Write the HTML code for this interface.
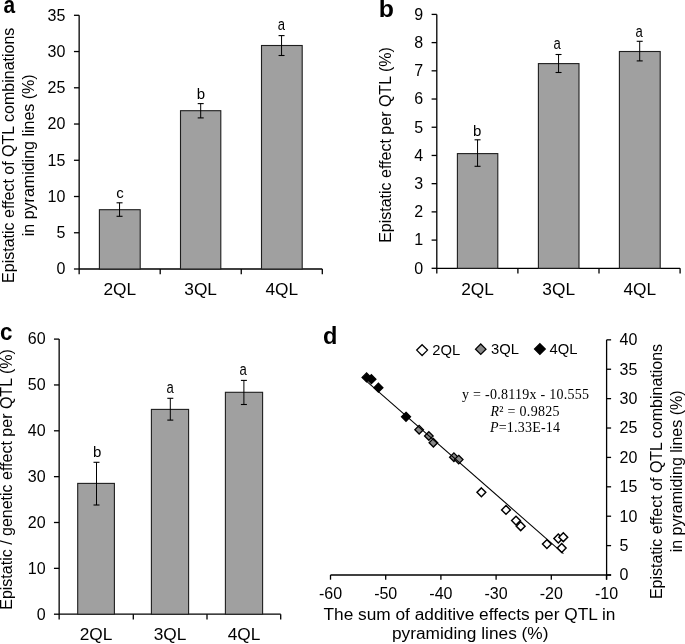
<!DOCTYPE html>
<html><head><meta charset="utf-8"><style>
html,body{margin:0;padding:0;background:#fff;}
body{width:685px;height:644px;overflow:hidden;font-family:"Liberation Sans",sans-serif;}
svg{display:block;will-change:transform;}
</style></head><body>
<svg width="685" height="644" viewBox="0 0 685 644">
<rect width="685" height="644" fill="#fff"/>
<line x1="79.15" y1="15.30" x2="79.15" y2="274.20" stroke="#000" stroke-width="1.3"/>
<line x1="73.95" y1="269.00" x2="79.15" y2="269.00" stroke="#000" stroke-width="1.3"/>
<text x="65.30" y="274.30" font-family="Liberation Sans, sans-serif" font-size="16" text-anchor="end" font-weight="normal" font-style="normal" >0</text>
<line x1="73.95" y1="232.76" x2="79.15" y2="232.76" stroke="#000" stroke-width="1.3"/>
<text x="65.30" y="238.06" font-family="Liberation Sans, sans-serif" font-size="16" text-anchor="end" font-weight="normal" font-style="normal" >5</text>
<line x1="73.95" y1="196.51" x2="79.15" y2="196.51" stroke="#000" stroke-width="1.3"/>
<text x="65.30" y="201.81" font-family="Liberation Sans, sans-serif" font-size="16" text-anchor="end" font-weight="normal" font-style="normal" >10</text>
<line x1="73.95" y1="160.27" x2="79.15" y2="160.27" stroke="#000" stroke-width="1.3"/>
<text x="65.30" y="165.57" font-family="Liberation Sans, sans-serif" font-size="16" text-anchor="end" font-weight="normal" font-style="normal" >15</text>
<line x1="73.95" y1="124.03" x2="79.15" y2="124.03" stroke="#000" stroke-width="1.3"/>
<text x="65.30" y="129.33" font-family="Liberation Sans, sans-serif" font-size="16" text-anchor="end" font-weight="normal" font-style="normal" >20</text>
<line x1="73.95" y1="87.79" x2="79.15" y2="87.79" stroke="#000" stroke-width="1.3"/>
<text x="65.30" y="93.09" font-family="Liberation Sans, sans-serif" font-size="16" text-anchor="end" font-weight="normal" font-style="normal" >25</text>
<line x1="73.95" y1="51.54" x2="79.15" y2="51.54" stroke="#000" stroke-width="1.3"/>
<text x="65.30" y="56.84" font-family="Liberation Sans, sans-serif" font-size="16" text-anchor="end" font-weight="normal" font-style="normal" >30</text>
<line x1="73.95" y1="15.30" x2="79.15" y2="15.30" stroke="#000" stroke-width="1.3"/>
<text x="65.30" y="20.60" font-family="Liberation Sans, sans-serif" font-size="16" text-anchor="end" font-weight="normal" font-style="normal" >35</text>
<line x1="79.15" y1="269.00" x2="322.30" y2="269.00" stroke="#000" stroke-width="1.3"/>
<line x1="160.20" y1="269.00" x2="160.20" y2="274.20" stroke="#000" stroke-width="1.3"/>
<line x1="241.25" y1="269.00" x2="241.25" y2="274.20" stroke="#000" stroke-width="1.3"/>
<line x1="322.30" y1="269.00" x2="322.30" y2="274.20" stroke="#000" stroke-width="1.3"/>
<rect x="99.40" y="209.70" width="40.80" height="59.30" fill="#a0a0a0" stroke="#1e1e1e" stroke-width="1.1"/>
<line x1="119.55" y1="202.80" x2="119.55" y2="216.30" stroke="#000" stroke-width="1.0"/>
<line x1="116.55" y1="202.80" x2="122.55" y2="202.80" stroke="#000" stroke-width="1.1"/>
<line x1="116.55" y1="216.30" x2="122.55" y2="216.30" stroke="#000" stroke-width="1.1"/>
<text x="119.95" y="198.20" font-family="Liberation Sans, sans-serif" font-size="15" text-anchor="middle" font-weight="normal" font-style="normal" >c</text>
<text x="119.80" y="294.80" font-family="Liberation Sans, sans-serif" font-size="17.3" text-anchor="middle" font-weight="normal" font-style="normal" >2QL</text>
<rect x="180.50" y="110.70" width="40.30" height="158.30" fill="#a0a0a0" stroke="#1e1e1e" stroke-width="1.1"/>
<line x1="200.70" y1="103.60" x2="200.70" y2="117.90" stroke="#000" stroke-width="1.0"/>
<line x1="197.70" y1="103.60" x2="203.70" y2="103.60" stroke="#000" stroke-width="1.1"/>
<line x1="197.70" y1="117.90" x2="203.70" y2="117.90" stroke="#000" stroke-width="1.1"/>
<text x="200.90" y="99.30" font-family="Liberation Sans, sans-serif" font-size="15" text-anchor="middle" font-weight="normal" font-style="normal" >b</text>
<text x="200.65" y="294.80" font-family="Liberation Sans, sans-serif" font-size="17.3" text-anchor="middle" font-weight="normal" font-style="normal" >3QL</text>
<rect x="261.50" y="45.50" width="40.70" height="223.50" fill="#a0a0a0" stroke="#1e1e1e" stroke-width="1.1"/>
<line x1="281.55" y1="35.60" x2="281.55" y2="55.50" stroke="#000" stroke-width="1.0"/>
<line x1="278.55" y1="35.60" x2="284.55" y2="35.60" stroke="#000" stroke-width="1.1"/>
<line x1="278.55" y1="55.50" x2="284.55" y2="55.50" stroke="#000" stroke-width="1.1"/>
<text transform="translate(281.36,30.20) scale(0.87,1.055)" x="0" y="0" font-family="Liberation Sans, sans-serif" font-size="15" text-anchor="middle">a</text>
<text x="281.85" y="294.80" font-family="Liberation Sans, sans-serif" font-size="17.3" text-anchor="middle" font-weight="normal" font-style="normal" >4QL</text>
<text transform="translate(14.40,155.30) rotate(-90)" x="0" y="0" font-family="Liberation Sans, sans-serif" font-size="16" text-anchor="middle" >Epistatic effect of QTL combinations</text>
<text transform="translate(34.20,155.30) rotate(-90)" x="0" y="0" font-family="Liberation Sans, sans-serif" font-size="16" text-anchor="middle" >in pyramiding lines (%)</text>
<text transform="translate(3.40,12.60) scale(0.95,1.09)" x="0" y="0" font-family="Liberation Sans, sans-serif" font-size="22" font-weight="bold">a</text>
<line x1="436.80" y1="14.40" x2="436.80" y2="273.50" stroke="#000" stroke-width="1.3"/>
<line x1="431.60" y1="268.30" x2="436.80" y2="268.30" stroke="#000" stroke-width="1.3"/>
<text x="423.20" y="273.60" font-family="Liberation Sans, sans-serif" font-size="16" text-anchor="end" font-weight="normal" font-style="normal" >0</text>
<line x1="431.60" y1="240.09" x2="436.80" y2="240.09" stroke="#000" stroke-width="1.3"/>
<text x="423.20" y="245.39" font-family="Liberation Sans, sans-serif" font-size="16" text-anchor="end" font-weight="normal" font-style="normal" >1</text>
<line x1="431.60" y1="211.88" x2="436.80" y2="211.88" stroke="#000" stroke-width="1.3"/>
<text x="423.20" y="217.18" font-family="Liberation Sans, sans-serif" font-size="16" text-anchor="end" font-weight="normal" font-style="normal" >2</text>
<line x1="431.60" y1="183.67" x2="436.80" y2="183.67" stroke="#000" stroke-width="1.3"/>
<text x="423.20" y="188.97" font-family="Liberation Sans, sans-serif" font-size="16" text-anchor="end" font-weight="normal" font-style="normal" >3</text>
<line x1="431.60" y1="155.46" x2="436.80" y2="155.46" stroke="#000" stroke-width="1.3"/>
<text x="423.20" y="160.76" font-family="Liberation Sans, sans-serif" font-size="16" text-anchor="end" font-weight="normal" font-style="normal" >4</text>
<line x1="431.60" y1="127.24" x2="436.80" y2="127.24" stroke="#000" stroke-width="1.3"/>
<text x="423.20" y="132.54" font-family="Liberation Sans, sans-serif" font-size="16" text-anchor="end" font-weight="normal" font-style="normal" >5</text>
<line x1="431.60" y1="99.03" x2="436.80" y2="99.03" stroke="#000" stroke-width="1.3"/>
<text x="423.20" y="104.33" font-family="Liberation Sans, sans-serif" font-size="16" text-anchor="end" font-weight="normal" font-style="normal" >6</text>
<line x1="431.60" y1="70.82" x2="436.80" y2="70.82" stroke="#000" stroke-width="1.3"/>
<text x="423.20" y="76.12" font-family="Liberation Sans, sans-serif" font-size="16" text-anchor="end" font-weight="normal" font-style="normal" >7</text>
<line x1="431.60" y1="42.61" x2="436.80" y2="42.61" stroke="#000" stroke-width="1.3"/>
<text x="423.20" y="47.91" font-family="Liberation Sans, sans-serif" font-size="16" text-anchor="end" font-weight="normal" font-style="normal" >8</text>
<line x1="431.60" y1="14.40" x2="436.80" y2="14.40" stroke="#000" stroke-width="1.3"/>
<text x="423.20" y="19.70" font-family="Liberation Sans, sans-serif" font-size="16" text-anchor="end" font-weight="normal" font-style="normal" >9</text>
<line x1="436.80" y1="268.30" x2="680.10" y2="268.30" stroke="#000" stroke-width="1.3"/>
<line x1="517.90" y1="268.30" x2="517.90" y2="273.50" stroke="#000" stroke-width="1.3"/>
<line x1="599.00" y1="268.30" x2="599.00" y2="273.50" stroke="#000" stroke-width="1.3"/>
<line x1="680.10" y1="268.30" x2="680.10" y2="273.50" stroke="#000" stroke-width="1.3"/>
<rect x="457.40" y="153.60" width="40.40" height="114.70" fill="#a0a0a0" stroke="#1e1e1e" stroke-width="1.1"/>
<line x1="477.55" y1="139.80" x2="477.55" y2="166.30" stroke="#000" stroke-width="1.0"/>
<line x1="474.55" y1="139.80" x2="480.55" y2="139.80" stroke="#000" stroke-width="1.1"/>
<line x1="474.55" y1="166.30" x2="480.55" y2="166.30" stroke="#000" stroke-width="1.1"/>
<text x="477.25" y="135.60" font-family="Liberation Sans, sans-serif" font-size="15" text-anchor="middle" font-weight="normal" font-style="normal" >b</text>
<text x="477.60" y="294.60" font-family="Liberation Sans, sans-serif" font-size="17.3" text-anchor="middle" font-weight="normal" font-style="normal" >2QL</text>
<rect x="538.40" y="63.60" width="40.60" height="204.70" fill="#a0a0a0" stroke="#1e1e1e" stroke-width="1.1"/>
<line x1="558.55" y1="54.50" x2="558.55" y2="72.50" stroke="#000" stroke-width="1.0"/>
<line x1="555.55" y1="54.50" x2="561.55" y2="54.50" stroke="#000" stroke-width="1.1"/>
<line x1="555.55" y1="72.50" x2="561.55" y2="72.50" stroke="#000" stroke-width="1.1"/>
<text transform="translate(557.15,48.80) scale(0.87,1.055)" x="0" y="0" font-family="Liberation Sans, sans-serif" font-size="15" text-anchor="middle">a</text>
<text x="558.70" y="294.60" font-family="Liberation Sans, sans-serif" font-size="17.3" text-anchor="middle" font-weight="normal" font-style="normal" >3QL</text>
<rect x="619.40" y="51.50" width="40.80" height="216.80" fill="#a0a0a0" stroke="#1e1e1e" stroke-width="1.1"/>
<line x1="639.70" y1="41.30" x2="639.70" y2="60.90" stroke="#000" stroke-width="1.0"/>
<line x1="636.70" y1="41.30" x2="642.70" y2="41.30" stroke="#000" stroke-width="1.1"/>
<line x1="636.70" y1="60.90" x2="642.70" y2="60.90" stroke="#000" stroke-width="1.1"/>
<text transform="translate(639.10,36.50) scale(0.87,1.055)" x="0" y="0" font-family="Liberation Sans, sans-serif" font-size="15" text-anchor="middle">a</text>
<text x="639.80" y="294.60" font-family="Liberation Sans, sans-serif" font-size="17.3" text-anchor="middle" font-weight="normal" font-style="normal" >4QL</text>
<text transform="translate(391.00,145.05) rotate(-90)" x="0" y="0" font-family="Liberation Sans, sans-serif" font-size="16" text-anchor="middle" >Epistatic effect per QTL (%)</text>
<text transform="translate(378.80,17.25) scale(1.13,1.06)" x="0" y="0" font-family="Liberation Sans, sans-serif" font-size="22" font-weight="bold">b</text>
<line x1="59.15" y1="339.10" x2="59.15" y2="619.40" stroke="#000" stroke-width="1.3"/>
<line x1="53.95" y1="614.20" x2="59.15" y2="614.20" stroke="#000" stroke-width="1.3"/>
<text x="45.60" y="619.50" font-family="Liberation Sans, sans-serif" font-size="16" text-anchor="end" font-weight="normal" font-style="normal" >0</text>
<line x1="53.95" y1="568.35" x2="59.15" y2="568.35" stroke="#000" stroke-width="1.3"/>
<text x="45.60" y="573.65" font-family="Liberation Sans, sans-serif" font-size="16" text-anchor="end" font-weight="normal" font-style="normal" >10</text>
<line x1="53.95" y1="522.50" x2="59.15" y2="522.50" stroke="#000" stroke-width="1.3"/>
<text x="45.60" y="527.80" font-family="Liberation Sans, sans-serif" font-size="16" text-anchor="end" font-weight="normal" font-style="normal" >20</text>
<line x1="53.95" y1="476.65" x2="59.15" y2="476.65" stroke="#000" stroke-width="1.3"/>
<text x="45.60" y="481.95" font-family="Liberation Sans, sans-serif" font-size="16" text-anchor="end" font-weight="normal" font-style="normal" >30</text>
<line x1="53.95" y1="430.80" x2="59.15" y2="430.80" stroke="#000" stroke-width="1.3"/>
<text x="45.60" y="436.10" font-family="Liberation Sans, sans-serif" font-size="16" text-anchor="end" font-weight="normal" font-style="normal" >40</text>
<line x1="53.95" y1="384.95" x2="59.15" y2="384.95" stroke="#000" stroke-width="1.3"/>
<text x="45.60" y="390.25" font-family="Liberation Sans, sans-serif" font-size="16" text-anchor="end" font-weight="normal" font-style="normal" >50</text>
<line x1="53.95" y1="339.10" x2="59.15" y2="339.10" stroke="#000" stroke-width="1.3"/>
<text x="45.60" y="344.40" font-family="Liberation Sans, sans-serif" font-size="16" text-anchor="end" font-weight="normal" font-style="normal" >60</text>
<line x1="59.15" y1="614.20" x2="280.70" y2="614.20" stroke="#000" stroke-width="1.3"/>
<line x1="133.30" y1="614.20" x2="133.30" y2="619.40" stroke="#000" stroke-width="1.3"/>
<line x1="207.00" y1="614.20" x2="207.00" y2="619.40" stroke="#000" stroke-width="1.3"/>
<line x1="280.70" y1="614.20" x2="280.70" y2="619.40" stroke="#000" stroke-width="1.3"/>
<rect x="77.70" y="483.40" width="36.70" height="130.80" fill="#a0a0a0" stroke="#1e1e1e" stroke-width="1.1"/>
<line x1="96.50" y1="462.30" x2="96.50" y2="505.00" stroke="#000" stroke-width="1.0"/>
<line x1="93.50" y1="462.30" x2="99.50" y2="462.30" stroke="#000" stroke-width="1.1"/>
<line x1="93.50" y1="505.00" x2="99.50" y2="505.00" stroke="#000" stroke-width="1.1"/>
<text x="97.20" y="456.90" font-family="Liberation Sans, sans-serif" font-size="15" text-anchor="middle" font-weight="normal" font-style="normal" >b</text>
<text x="96.05" y="640.20" font-family="Liberation Sans, sans-serif" font-size="17.3" text-anchor="middle" font-weight="normal" font-style="normal" >2QL</text>
<rect x="151.40" y="409.40" width="37.20" height="204.80" fill="#a0a0a0" stroke="#1e1e1e" stroke-width="1.1"/>
<line x1="170.30" y1="398.30" x2="170.30" y2="420.10" stroke="#000" stroke-width="1.0"/>
<line x1="167.30" y1="398.30" x2="173.30" y2="398.30" stroke="#000" stroke-width="1.1"/>
<line x1="167.30" y1="420.10" x2="173.30" y2="420.10" stroke="#000" stroke-width="1.1"/>
<text transform="translate(170.20,392.50) scale(0.87,1.055)" x="0" y="0" font-family="Liberation Sans, sans-serif" font-size="15" text-anchor="middle">a</text>
<text x="170.00" y="640.20" font-family="Liberation Sans, sans-serif" font-size="17.3" text-anchor="middle" font-weight="normal" font-style="normal" >3QL</text>
<rect x="225.40" y="392.30" width="37.20" height="221.90" fill="#a0a0a0" stroke="#1e1e1e" stroke-width="1.1"/>
<line x1="243.90" y1="380.40" x2="243.90" y2="404.50" stroke="#000" stroke-width="1.0"/>
<line x1="240.90" y1="380.40" x2="246.90" y2="380.40" stroke="#000" stroke-width="1.1"/>
<line x1="240.90" y1="404.50" x2="246.90" y2="404.50" stroke="#000" stroke-width="1.1"/>
<text transform="translate(243.23,374.60) scale(0.87,1.055)" x="0" y="0" font-family="Liberation Sans, sans-serif" font-size="15" text-anchor="middle">a</text>
<text x="244.00" y="640.20" font-family="Liberation Sans, sans-serif" font-size="17.3" text-anchor="middle" font-weight="normal" font-style="normal" >4QL</text>
<text transform="translate(12.40,479.50) rotate(-90)" x="0" y="0" font-family="Liberation Sans, sans-serif" font-size="16" text-anchor="middle" >Epistatic / genetic effect per QTL (%)</text>
<text transform="translate(0.00,339.90) scale(1.02,1.06)" x="0" y="0" font-family="Liberation Sans, sans-serif" font-size="22" font-weight="bold">c</text>
<line x1="606.60" y1="339.84" x2="606.60" y2="579.70" stroke="#000" stroke-width="1.3"/>
<line x1="606.60" y1="575.00" x2="611.10" y2="575.00" stroke="#000" stroke-width="1.3"/>
<text x="619.50" y="580.30" font-family="Liberation Sans, sans-serif" font-size="16" text-anchor="start" font-weight="normal" font-style="normal" >0</text>
<line x1="606.60" y1="545.61" x2="611.10" y2="545.61" stroke="#000" stroke-width="1.3"/>
<text x="619.50" y="550.90" font-family="Liberation Sans, sans-serif" font-size="16" text-anchor="start" font-weight="normal" font-style="normal" >5</text>
<line x1="606.60" y1="516.21" x2="611.10" y2="516.21" stroke="#000" stroke-width="1.3"/>
<text x="619.50" y="521.51" font-family="Liberation Sans, sans-serif" font-size="16" text-anchor="start" font-weight="normal" font-style="normal" >10</text>
<line x1="606.60" y1="486.81" x2="611.10" y2="486.81" stroke="#000" stroke-width="1.3"/>
<text x="619.50" y="492.12" font-family="Liberation Sans, sans-serif" font-size="16" text-anchor="start" font-weight="normal" font-style="normal" >15</text>
<line x1="606.60" y1="457.42" x2="611.10" y2="457.42" stroke="#000" stroke-width="1.3"/>
<text x="619.50" y="462.72" font-family="Liberation Sans, sans-serif" font-size="16" text-anchor="start" font-weight="normal" font-style="normal" >20</text>
<line x1="606.60" y1="428.02" x2="611.10" y2="428.02" stroke="#000" stroke-width="1.3"/>
<text x="619.50" y="433.32" font-family="Liberation Sans, sans-serif" font-size="16" text-anchor="start" font-weight="normal" font-style="normal" >25</text>
<line x1="606.60" y1="398.63" x2="611.10" y2="398.63" stroke="#000" stroke-width="1.3"/>
<text x="619.50" y="403.93" font-family="Liberation Sans, sans-serif" font-size="16" text-anchor="start" font-weight="normal" font-style="normal" >30</text>
<line x1="606.60" y1="369.24" x2="611.10" y2="369.24" stroke="#000" stroke-width="1.3"/>
<text x="619.50" y="374.54" font-family="Liberation Sans, sans-serif" font-size="16" text-anchor="start" font-weight="normal" font-style="normal" >35</text>
<line x1="606.60" y1="339.84" x2="611.10" y2="339.84" stroke="#000" stroke-width="1.3"/>
<text x="619.50" y="345.14" font-family="Liberation Sans, sans-serif" font-size="16" text-anchor="start" font-weight="normal" font-style="normal" >40</text>
<line x1="330.50" y1="575.00" x2="611.10" y2="575.00" stroke="#000" stroke-width="1.3"/>
<line x1="330.50" y1="575.00" x2="330.50" y2="579.70" stroke="#000" stroke-width="1.3"/>
<text x="330.50" y="598.90" font-family="Liberation Sans, sans-serif" font-size="16" text-anchor="middle" font-weight="normal" font-style="normal" >-60</text>
<line x1="385.70" y1="575.00" x2="385.70" y2="579.70" stroke="#000" stroke-width="1.3"/>
<text x="385.70" y="598.90" font-family="Liberation Sans, sans-serif" font-size="16" text-anchor="middle" font-weight="normal" font-style="normal" >-50</text>
<line x1="440.90" y1="575.00" x2="440.90" y2="579.70" stroke="#000" stroke-width="1.3"/>
<text x="440.90" y="598.90" font-family="Liberation Sans, sans-serif" font-size="16" text-anchor="middle" font-weight="normal" font-style="normal" >-40</text>
<line x1="496.10" y1="575.00" x2="496.10" y2="579.70" stroke="#000" stroke-width="1.3"/>
<text x="496.10" y="598.90" font-family="Liberation Sans, sans-serif" font-size="16" text-anchor="middle" font-weight="normal" font-style="normal" >-30</text>
<line x1="551.30" y1="575.00" x2="551.30" y2="579.70" stroke="#000" stroke-width="1.3"/>
<text x="551.30" y="598.90" font-family="Liberation Sans, sans-serif" font-size="16" text-anchor="middle" font-weight="normal" font-style="normal" >-20</text>
<line x1="606.50" y1="575.00" x2="606.50" y2="579.70" stroke="#000" stroke-width="1.3"/>
<text x="606.50" y="598.90" font-family="Liberation Sans, sans-serif" font-size="16" text-anchor="middle" font-weight="normal" font-style="normal" >-10</text>
<text x="469.50" y="619.50" font-family="Liberation Sans, sans-serif" font-size="17.3" text-anchor="middle" font-weight="normal" font-style="normal" >The sum of additive effects per QTL in</text>
<text x="470.20" y="639.30" font-family="Liberation Sans, sans-serif" font-size="17.3" text-anchor="middle" font-weight="normal" font-style="normal" >pyramiding lines (%)</text>
<text transform="translate(662.30,471.50) rotate(-90)" x="0" y="0" font-family="Liberation Sans, sans-serif" font-size="16" text-anchor="middle" >Epistatic effect of QTL combinations</text>
<text transform="translate(681.80,471.40) rotate(-90)" x="0" y="0" font-family="Liberation Sans, sans-serif" font-size="16" text-anchor="middle" >in pyramiding lines (%)</text>
<text transform="translate(323.10,343.70) scale(1.07,1.05)" x="0" y="0" font-family="Liberation Sans, sans-serif" font-size="22" font-weight="bold">d</text>
<path d="M481.40 487.90 L485.80 492.30 L481.40 496.70 L477.00 492.30 Z" fill="#fff" stroke="#000" stroke-width="1.45"/>
<path d="M506.00 505.50 L510.40 509.90 L506.00 514.30 L501.60 509.90 Z" fill="#fff" stroke="#000" stroke-width="1.45"/>
<path d="M516.00 516.20 L520.40 520.60 L516.00 525.00 L511.60 520.60 Z" fill="#fff" stroke="#000" stroke-width="1.45"/>
<path d="M520.70 521.80 L525.10 526.20 L520.70 530.60 L516.30 526.20 Z" fill="#fff" stroke="#000" stroke-width="1.45"/>
<path d="M546.90 539.70 L551.30 544.10 L546.90 548.50 L542.50 544.10 Z" fill="#fff" stroke="#000" stroke-width="1.45"/>
<path d="M558.30 534.10 L562.70 538.50 L558.30 542.90 L553.90 538.50 Z" fill="#fff" stroke="#000" stroke-width="1.45"/>
<path d="M563.30 532.80 L567.70 537.20 L563.30 541.60 L558.90 537.20 Z" fill="#fff" stroke="#000" stroke-width="1.45"/>
<path d="M561.70 543.60 L566.10 548.00 L561.70 552.40 L557.30 548.00 Z" fill="#fff" stroke="#000" stroke-width="1.45"/>
<path d="M419.15 425.40 L423.45 429.70 L419.15 434.00 L414.85 429.70 Z" fill="#888" stroke="#000" stroke-width="1.3"/>
<path d="M428.85 431.70 L433.15 436.00 L428.85 440.30 L424.55 436.00 Z" fill="#888" stroke="#000" stroke-width="1.3"/>
<path d="M433.40 438.40 L437.70 442.70 L433.40 447.00 L429.10 442.70 Z" fill="#888" stroke="#000" stroke-width="1.3"/>
<path d="M453.90 452.90 L458.20 457.20 L453.90 461.50 L449.60 457.20 Z" fill="#888" stroke="#000" stroke-width="1.3"/>
<path d="M458.70 455.30 L463.00 459.60 L458.70 463.90 L454.40 459.60 Z" fill="#888" stroke="#000" stroke-width="1.3"/>
<path d="M366.60 372.90 L371.10 377.40 L366.60 381.90 L362.10 377.40 Z" fill="#000" stroke="#000" stroke-width="1.3"/>
<path d="M371.40 374.70 L375.90 379.20 L371.40 383.70 L366.90 379.20 Z" fill="#000" stroke="#000" stroke-width="1.3"/>
<path d="M378.40 383.20 L382.90 387.70 L378.40 392.20 L373.90 387.70 Z" fill="#000" stroke="#000" stroke-width="1.3"/>
<path d="M406.00 412.30 L410.50 416.80 L406.00 421.30 L401.50 416.80 Z" fill="#000" stroke="#000" stroke-width="1.3"/>
<line x1="365.8" y1="380.61" x2="563.4" y2="553.56" stroke="#000" stroke-width="1.05"/>
<path d="M422.10 344.70 L427.50 350.10 L422.10 355.50 L416.70 350.10 Z" fill="#fff" stroke="#000" stroke-width="1.3"/>
<text x="432.30" y="354.50" font-family="Liberation Sans, sans-serif" font-size="14.8" text-anchor="start" font-weight="normal" font-style="normal" >2QL</text>
<path d="M480.75 343.95 L485.95 349.15 L480.75 354.35 L475.55 349.15 Z" fill="#888" stroke="#000" stroke-width="1.3"/>
<text x="491.10" y="353.70" font-family="Liberation Sans, sans-serif" font-size="14.8" text-anchor="start" font-weight="normal" font-style="normal" >3QL</text>
<path d="M539.90 343.70 L545.25 349.05 L539.90 354.40 L534.55 349.05 Z" fill="#000" stroke="#000" stroke-width="1.3"/>
<text x="549.60" y="353.70" font-family="Liberation Sans, sans-serif" font-size="14.8" text-anchor="start" font-weight="normal" font-style="normal" >4QL</text>
<text x="525.50" y="398.80" font-family="Liberation Serif, serif" font-size="14" text-anchor="middle" font-weight="normal" font-style="normal" textLength="127" lengthAdjust="spacing">y = -0.8119x - 10.555</text>
<text x="525" y="415.8" font-family="Liberation Serif, serif" font-size="14" textLength="69" lengthAdjust="spacing" text-anchor="middle"><tspan font-style="italic">R</tspan>² = 0.9825</text>
<text x="525" y="432.1" font-family="Liberation Serif, serif" font-size="14" textLength="70" lengthAdjust="spacing" text-anchor="middle"><tspan font-style="italic">P</tspan>=1.33E-14</text>
</svg>
</body></html>
